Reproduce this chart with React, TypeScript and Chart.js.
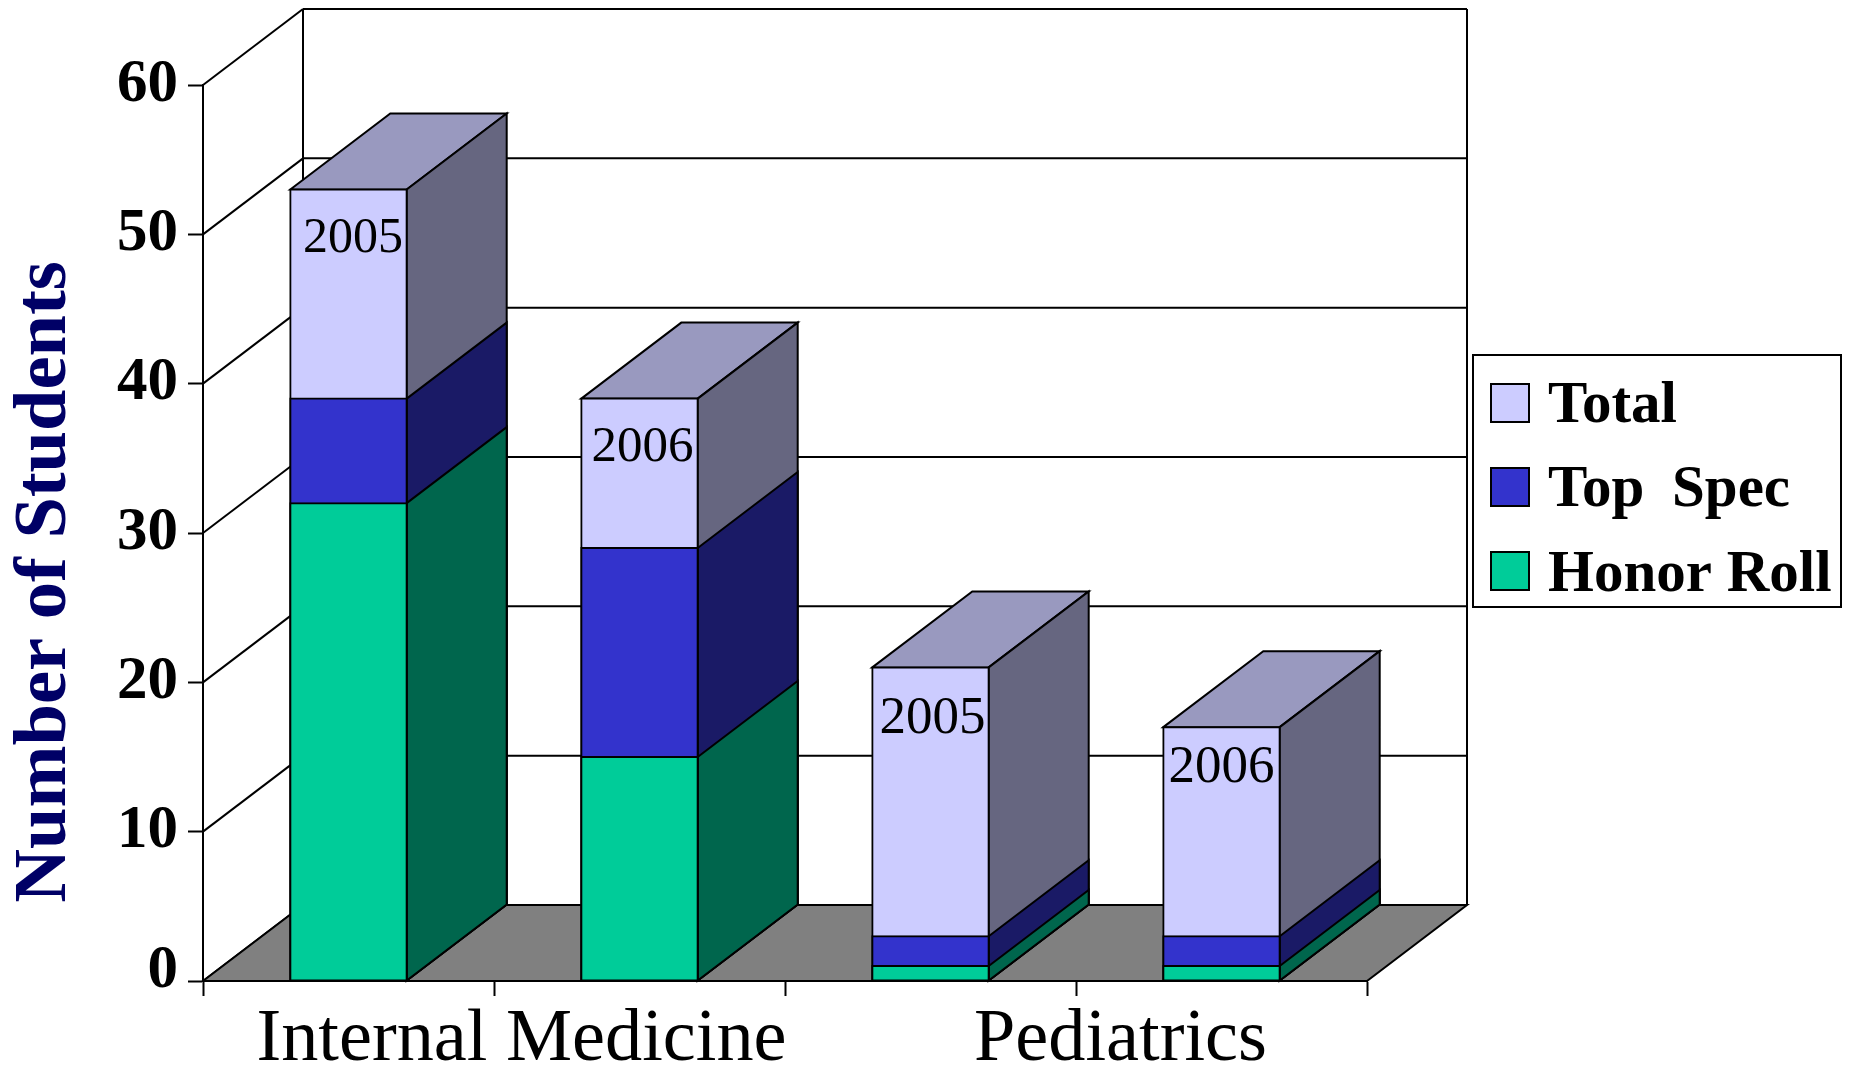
import React, { useEffect, useRef } from "react";
import { Chart, registerables } from "chart.js";

Chart.register(...registerables);

const categories = ["Internal Medicine 2005", "Internal Medicine 2006", "Pediatrics 2005", "Pediatrics 2006"];
const yearLabels = ["2005", "2006", "2005", "2006"];
const groupLabels = ["Internal Medicine", "Pediatrics"];
const totalValues = [53, 39, 21, 17];
const topSpecValues = [39, 29, 3, 3];
const honorRollValues = [32, 15, 1, 1];
const seriesNames = ["Total", "Top Spec", "Honor Roll"];
const frontColors = ["#CCCCFF", "#3333CC", "#00CC99"];
const sideColors = ["#666680", "#1A1A66", "#00664D"];
const topColor = "#9999BF";

const DX = 100;
const DY = 76;
const SERIF = '"Liberation Serif", "Times New Roman", serif';
const yearStyles = [
  { x: 4.5, y: 62.5, size: 50 },
  { x: 3, y: 62.5, size: 51 },
  { x: 2, y: 65.5, size: 53 },
  { x: 0, y: 55, size: 53 },
];
const groupOffsets = [27.5, 44.5];

const poly = (ctx: CanvasRenderingContext2D, pts: number[][], fill?: string) => {
  ctx.beginPath();
  pts.forEach(([x, y], i) => (i ? ctx.lineTo(x, y) : ctx.moveTo(x, y)));
  ctx.closePath();
  if (fill) {
    ctx.fillStyle = fill;
    ctx.fill();
  }
  ctx.stroke();
};

const line = (ctx: CanvasRenderingContext2D, x1: number, y1: number, x2: number, y2: number) => {
  ctx.beginPath();
  ctx.moveTo(x1, y1);
  ctx.lineTo(x2, y2);
  ctx.stroke();
};

const depthPlugin = {
  id: "depth",
  beforeDatasetsDraw(chart: any) {
    const { ctx, chartArea: a, scales } = chart;
    const yScale = scales.y;
    ctx.save();
    ctx.strokeStyle = "#000";
    ctx.lineWidth = 2;
    ctx.lineJoin = "miter";
    // back wall
    line(ctx, a.left + DX, a.top - DY, a.right + DX, a.top - DY);
    line(ctx, a.left + DX, a.top - DY, a.left + DX, a.bottom - DY);
    line(ctx, a.right + DX, a.top - DY, a.right + DX, a.bottom - DY);
    // grid
    yScale.ticks.forEach((t: any) => {
      const y = yScale.getPixelForValue(t.value);
      line(ctx, a.left, y, a.left + DX, y - DY);
      if (t.value > 0 && t.value < yScale.max) line(ctx, a.left + DX, y - DY, a.right + DX, y - DY);
    });
    // floor
    const b = a.bottom;
    poly(ctx, [[a.left, b], [a.left + DX, b - DY], [a.right + DX, b - DY], [a.right, b]], "#808080");
    // bar depth faces, tallest first
    chart.data.datasets.forEach((_: any, di: number) => {
      chart.getDatasetMeta(di).data.forEach((el: any) => {
        const { x, y, base, width } = el.getProps(["x", "y", "base", "width"], true);
        const l = x - width / 2;
        const r = x + width / 2;
        if (di === 0) poly(ctx, [[l, y], [l + DX, y - DY], [r + DX, y - DY], [r, y]], topColor);
        poly(ctx, [[r, y], [r + DX, y - DY], [r + DX, base - DY], [r, base]], sideColors[di]);
      });
    });
    ctx.restore();
  },
  afterDatasetsDraw(chart: any) {
    const { ctx, chartArea: a, scales } = chart;
    const xScale = scales.x;
    ctx.save();
    ctx.fillStyle = "#000";
    ctx.textBaseline = "alphabetic";
    // year labels on the bars
    ctx.textAlign = "center";
    const topMeta = chart.getDatasetMeta(0).data;
    yearLabels.forEach((label, i) => {
      const s = yearStyles[i];
      ctx.font = `${s.size}px ${SERIF}`;
      ctx.fillText(label, topMeta[i].x + s.x, topMeta[i].y + s.y);
    });
    // group labels under the axis
    ctx.font = `74.3px ${SERIF}`;
    groupLabels.forEach((label, i) => {
      const c = (xScale.getPixelForValue(i * 2) + xScale.getPixelForValue(i * 2 + 1)) / 2;
      ctx.fillText(label, c + groupOffsets[i], a.bottom + 79);
    });
    // value axis title
    ctx.save();
    ctx.translate(65, 582);
    ctx.rotate(-Math.PI / 2);
    ctx.font = `bold 74.5px ${SERIF}`;
    ctx.fillStyle = "#000066";
    ctx.fillText("Number of Students", 0, 0);
    ctx.restore();
    // legend
    ctx.strokeStyle = "#000";
    ctx.lineWidth = 2;
    ctx.strokeRect(1473, 355, 368, 252);
    ctx.textAlign = "left";
    ctx.font = `bold 59px ${SERIF}`;
    const tops = [384, 468, 552];
    const baselines = [422, 506, 591];
    chart.data.datasets.forEach((ds: any, i: number) => {
      ctx.fillStyle = ds.backgroundColor;
      ctx.fillRect(1491, tops[i], 38, 38);
      ctx.strokeRect(1491, tops[i], 38, 38);
      ctx.fillStyle = "#000";
      (ctx as any).wordSpacing = i === 1 ? "13px" : "0px";
      ctx.fillText(ds.label, 1548, baselines[i]);
    });
    ctx.restore();
  },
};

export default function App() {
  const ref = useRef<HTMLCanvasElement>(null);
  useEffect(() => {
    document.body.style.margin = "0";
    const dataset = (i: number, data: number[]) => ({
      label: seriesNames[i],
      data,
      backgroundColor: frontColors[i],
      borderColor: "#000",
      borderWidth: 2,
      borderSkipped: false,
      inflateAmount: 1,
      order: 3 - i,
      grouped: false,
      barPercentage: 0.4,
      categoryPercentage: 1,
    });
    const chart = new Chart(ref.current!, {
      type: "bar",
      data: {
        labels: categories,
        datasets: [dataset(0, totalValues), dataset(1, topSpecValues), dataset(2, honorRollValues)],
      },
      plugins: [depthPlugin],
      options: {
        animation: false,
        responsive: false,
        layout: { padding: { left: 0, top: 85, right: 497, bottom: 0 } },
        plugins: { legend: { display: false }, tooltip: { enabled: false } },
        scales: {
          x: {
            afterFit: (s: any) => { s.height = 88; },
            grid: { drawOnChartArea: false, tickLength: 15, tickWidth: 2, tickColor: "#000", offset: true },
            border: { color: "#000", width: 2 },
            ticks: { display: false },
          },
          y: {
            min: 0,
            max: 60,
            afterFit: (s: any) => { s.width = 203; },
            grid: { drawOnChartArea: false, tickLength: 15, tickWidth: 2, tickColor: "#000" },
            border: { color: "#000", width: 2 },
            ticks: {
              stepSize: 10,
              padding: 10,
              color: "#000",
              // the zero sits a little above its tick in the reference
              callback: (v: any) => (v === 0 ? ["0", ""] : String(v)),
              font: (c: any) => ({
                family: SERIF,
                size: 61,
                weight: "bold",
                lineHeight: c.tick && c.tick.value === 0 ? 0.31 : 1.2,
              }),
            },
          },
        },
      },
    } as any);
    return () => chart.destroy();
  }, []);
  return <canvas ref={ref} width={1864} height={1069} style={{ display: "block" }} />;
}
